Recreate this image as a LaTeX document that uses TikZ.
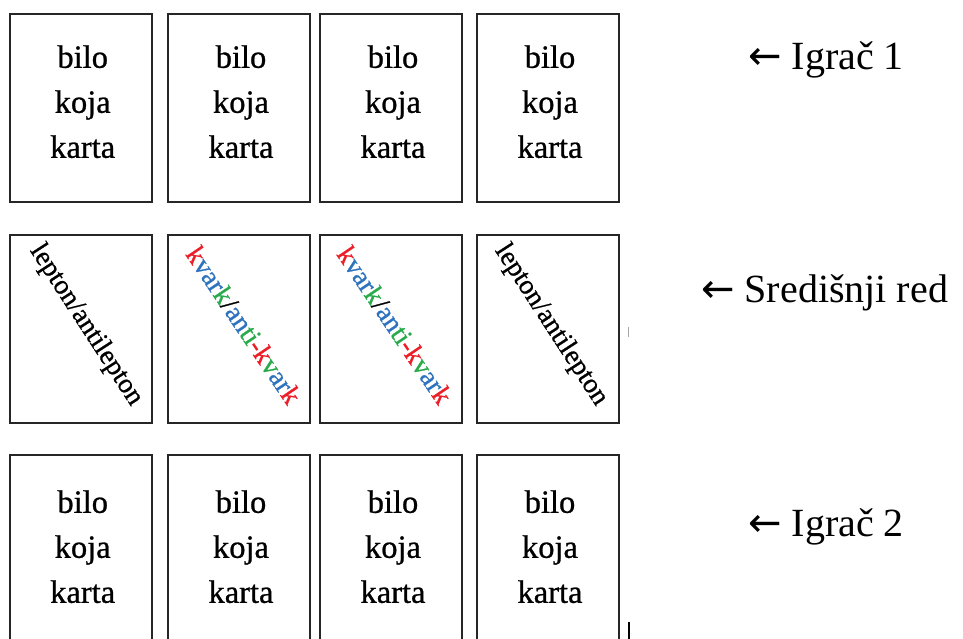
\documentclass[tikz,border=0pt]{standalone}
\usepackage{fontspec}
\setmainfont{Liberation Serif}
\newfontfamily\cardfont{Liberation Serif}[FakeBold=0.8]
\newfontfamily\arrowfont{DejaVu Sans}
\definecolor{kred}{RGB}{235,30,40}
\definecolor{kblue}{RGB}{45,115,190}
\definecolor{kgreen}{RGB}{40,170,75}
\begin{document}
\begin{tikzpicture}[x=1pt,y=-1pt,
  card/.style={draw=black!85, line width=2.4pt, minimum width=142pt, minimum height=188pt, inner sep=0pt},
  ctext/.style={font=\cardfont\fontsize{32.5}{36}\selectfont, anchor=base, inner sep=0pt, xshift=2pt},
  diag/.style={font=\cardfont\fontsize{27.5}{30}\selectfont, inner sep=0pt},
  lbl/.style={font=\fontsize{40}{46}\selectfont, anchor=base west, inner sep=0pt}]
\useasboundingbox (0,0) rectangle (963,639);
\clip (0,0) rectangle (963,639);
\fill[white] (0,0) rectangle (963,639);
% cards
\foreach \n/\x in {1/80.7,2/239,3/391,4/548}{
  \node[card] (a\n) at (\x,108) {};
  \node[card] (m\n) at (\x,329) {};
  \node[card] (b\n) at (\x,549) {};
  \node[ctext] (a\n t1) at ([yshift=-55pt]a\n.north) {bilo};
  \node[ctext] (a\n t2) at ([yshift=-100pt]a\n.north) {koja};
  \node[ctext] (a\n t3) at ([yshift=-145pt]a\n.north) {karta};
  \node[ctext] (b\n t1) at ([yshift=-59pt]b\n.north) {bilo};
  \node[ctext] (b\n t2) at ([yshift=-104pt]b\n.north) {koja};
  \node[ctext] (b\n t3) at ([yshift=-149pt]b\n.north) {karta};
}
% middle row texts
\node[diag, rotate=-57] (m1t) at (86,325) {lepton/antilepton};
\node[diag, rotate=-56] (m2t) at (244,325) {\textcolor{kred}{k}\textcolor{kblue}{var}\textcolor{kgreen}{k}/\textcolor{kblue}{an}\textcolor{kgreen}{ti}\textcolor{kred}{-k}\textcolor{kgreen}{v}\textcolor{kblue}{ar}\textcolor{kred}{k}};
\node[diag, rotate=-56] (m3t) at (395,325) {\textcolor{kred}{k}\textcolor{kblue}{var}\textcolor{kgreen}{k}/\textcolor{kblue}{an}\textcolor{kgreen}{ti}\textcolor{kred}{-k}\textcolor{kgreen}{v}\textcolor{kblue}{ar}\textcolor{kred}{k}};
\node[diag, rotate=-57] (m4t) at (551,325) {lepton/antilepton};
% labels
\node[lbl] (p1) at (748,70) {{\arrowfont ←} Igrač 1};
\node[lbl] (sr) at (701,302) {{\arrowfont ←} Središnji red};
\node[lbl] (p2) at (748,536) {{\arrowfont ←} Igrač 2};
% small marks
\coordinate (k1) at (628,327);
\coordinate (k2) at (628,337);
\coordinate (u1) at (629,622);
\coordinate (u2) at (629,639);
\draw[black!35, line width=1pt] (k1) -- (k2);
\draw[black, line width=1.2pt] (u1) -- (u2);
\end{tikzpicture}
\end{document}
